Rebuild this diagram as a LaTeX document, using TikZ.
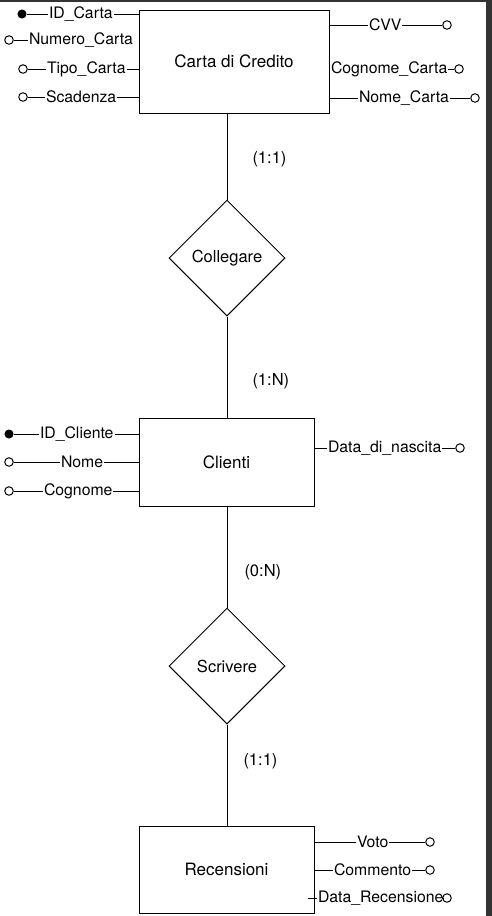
\documentclass[tikz,border=0pt]{standalone}
\usepackage{fontspec}
\setmainfont{TeX Gyre Heros}
\usetikzlibrary{shapes.geometric}
\usetikzlibrary{positioning}
\tikzstyle{entity}=[draw,rectangle,font=\fontsize{17}{20}\selectfont]
\tikzstyle{relation}=[draw,diamond,aspect=1,inner sep=0pt,minimum width=116pt,minimum height=116pt,font=\fontsize{16.5}{19}\selectfont]
\tikzstyle{attr}=[inner xsep=0.5pt,inner ysep=0pt,font=\fontsize{15.8}{18}\selectfont]
\tikzstyle{card}=[inner sep=0pt,font=\fontsize{16.5}{19}\selectfont]
\tikzstyle{key}=[circle,draw,fill=black,inner sep=0pt,minimum size=8pt]
\tikzstyle{nokey}=[circle,draw,fill=white,inner sep=0pt,minimum size=8.5pt]

\begin{document}
\begin{tikzpicture}
	[x=1pt,y=-1pt,line width=1pt]
	\useasboundingbox (0,0) rectangle (492,916);
	\fill[white] (0,0) rectangle (492,916);
	\fill[black!80] (0,0) rectangle (492,2);
	\fill[black!80] (486,0) rectangle (492,916);

	% entities and relations
	\node (carta) [entity,minimum width=190pt,minimum height=103pt] at (234,61.5) {Carta di Credito};
	\node (coll) [relation] at (227,258) {Collegare};
	\node (clienti) [entity,minimum width=175pt,minimum height=88pt] at (226.5,462) {Clienti};
	\node (scriv) [relation] at (227,666) {Scrivere};
	\node (recens) [entity,minimum width=175pt,minimum height=87pt] at (226.5,869.5) {Recensioni};

	\draw (coll.north |- carta.south) -- node[card,pos=.53,right=25pt] {(1:1)} (coll.north);
	\draw (coll.south) -- node[card,pos=.64,right=25pt] {(1:N)} (coll.south |- clienti.north);
	\draw (scriv.north |- clienti.south) -- node[card,pos=.65,right=17pt] {(0:N)} (scriv.north);
	\draw (scriv.south) -- node[card,pos=.36,right=16pt] {(1:1)} (scriv.south |- recens.north);

	% Carta di Credito
	\node (idcarta) [attr,anchor=west] at (48,14) {ID\_Carta};
	\node (idcartak) [key] at (22,14) {};
	\draw (idcartak) -- (idcarta.west);
	\draw (idcarta.east) -- (idcarta.east -| carta.west);
	\node (numero) [attr,anchor=west] at (28,40) {Numero\_Carta};
	\node (numerok) [nokey] at (9,40) {};
	\draw (numerok) -- (numero.west);
	\node (tipo) [attr,anchor=west] at (46,69) {Tipo\_Carta};
	\node (tipok) [nokey] at (23,69) {};
	\draw (tipok) -- (tipo.west);
	\draw (tipo.east) -- (tipo.east -| carta.west);
	\node (scad) [attr,anchor=west] at (45,97) {Scadenza};
	\node (scadk) [nokey] at (23,97) {};
	\draw (scadk) -- (scad.west);
	\draw (scad.east) -- (scad.east -| carta.west);
	\node (cvv) [attr,anchor=west] at (368,25) {CVV};
	\node (cvvk) [nokey] at (447,25) {};
	\draw (cvv.west -| carta.east) -- (cvv.west);
	\draw (cvv.east) -- (cvvk);
	\node (cognc) [attr,anchor=west] at (330,69) {Cognome\_Carta};
	\node (cognck) [nokey] at (459,69) {};
	\draw (cognc.east) -- (cognck);
	\node (nomec) [attr,anchor=west] at (358,98) {Nome\_Carta};
	\node (nomeck) [nokey] at (475,98) {};
	\draw (nomec.west -| carta.east) -- (nomec.west);
	\draw (nomec.east) -- (nomeck);

	% Clienti
	\node (idcli) [attr,anchor=west] at (39,434) {ID\_Cliente};
	\node (idclik) [key] at (9,434) {};
	\draw (idclik) -- (idcli.west);
	\draw (idcli.east) -- (idcli.east -| clienti.west);
	\node (nome) [attr,anchor=west] at (60,462) {Nome};
	\node (nomek) [nokey] at (9,462) {};
	\draw (nomek) -- (nome.west);
	\draw (nome.east) -- (nome.east -| clienti.west);
	\node (cogn) [attr,anchor=west] at (43,491) {Cognome};
	\node (cognk) [nokey] at (9,491) {};
	\draw (cognk) -- (cogn.west);
	\draw (cogn.east) -- (cogn.east -| clienti.west);
	\node (nascita) [attr,anchor=west] at (327,448) {Data\_di\_nascita};
	\node (nascitak) [nokey] at (460,448) {};
	\draw (nascita.west -| clienti.east) -- (nascita.west);
	\draw (nascita.east) -- (nascitak);

	% Recensioni
	\node (voto) [attr,anchor=west] at (356,842) {Voto};
	\node (votok) [nokey] at (430,842) {};
	\draw (voto.west -| recens.east) -- (voto.west);
	\draw (voto.east) -- (votok);
	\node (comm) [attr,anchor=west] at (333,870) {Commento};
	\node (commk) [nokey] at (430,870) {};
	\draw (comm.west -| recens.east) -- (comm.west);
	\draw (comm.east) -- (commk);
	\node (datarec) [attr,anchor=west] at (317,898) {Data\_Recensione};
	\node (datareck) [nokey] at (447,898) {};
	\draw ([xshift=-7pt]datarec.west -| recens.east) -- (datarec.west);
	\draw (datarec.east) -- (datareck);
\end{tikzpicture}
\end{document}
